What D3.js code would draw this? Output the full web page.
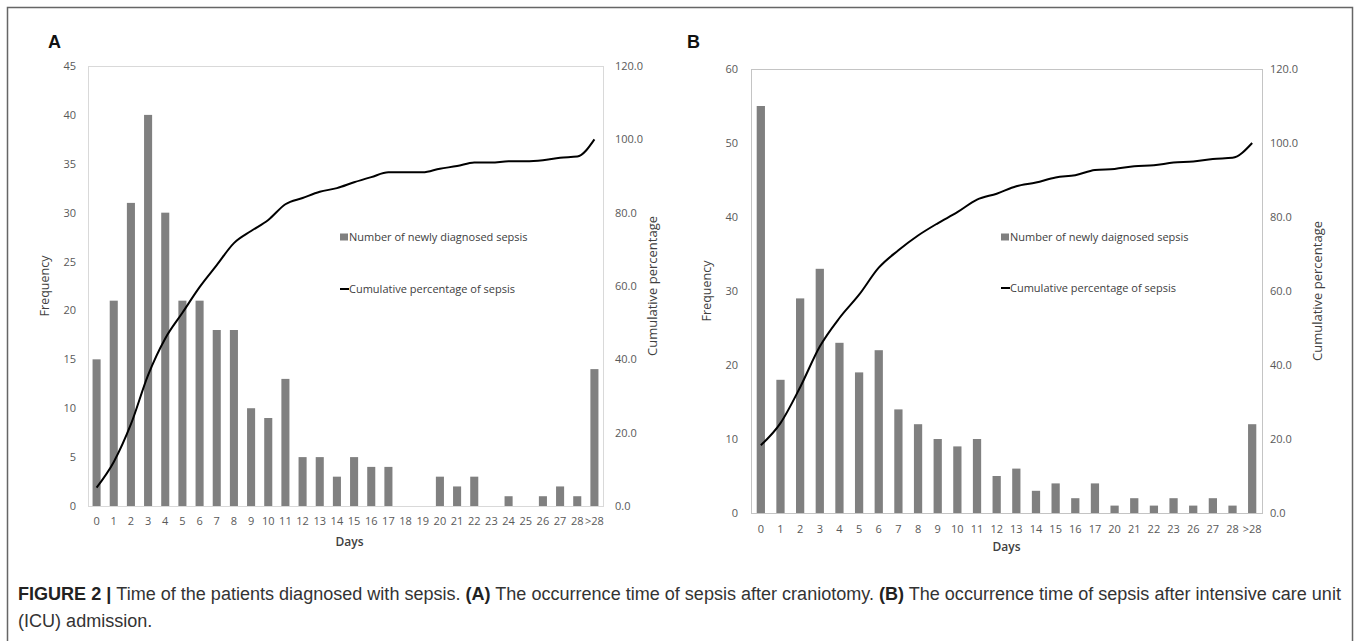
<!DOCTYPE html>
<html>
<head>
<meta charset="utf-8">
<script src="https://cdn.jsdelivr.net/npm/d3@7"></script>
<style>
  body { margin: 0; background: #fff; }
  .chart-text { font-family: "Open Sans", "Noto Sans", sans-serif; }
  .caption-text { font-family: "Liberation Sans", Arial, sans-serif; }
</style>
</head>
<body>
<div id="chart"></div>
<script>
// Panel A: after craniotomy
const daysA = ['0','1','2','3','4','5','6','7','8','9','10','11','12','13','14','15','16','17','18','19','20','21','22','23','24','25','26','27','28','>28'];
const countsA = [15, 21, 31, 40, 30, 21, 21, 18, 18, 10, 9, 13, 5, 5, 3, 5, 4, 4, 0, 0, 3, 2, 3, 0, 1, 0, 1, 2, 1, 14];
const cumPctA = [5.0, 12.0, 22.3, 35.7, 45.7, 52.7, 59.7, 65.7, 71.7, 75.0, 78.0, 82.3, 84.0, 85.7, 86.7, 88.3, 89.7, 91.0, 91.0, 91.0, 92.0, 92.7, 93.7, 93.7, 94.0, 94.0, 94.3, 95.0, 95.3, 100.0];
const freqTicksA = [0, 5, 10, 15, 20, 25, 30, 35, 40, 45];

// Panel B: after ICU admission
const daysB = ['0','1','2','3','4','5','6','7','8','9','10','11','12','13','14','15','16','17','20','21','22','23','26','27','28','>28'];
const countsB = [55, 18, 29, 33, 23, 19, 22, 14, 12, 10, 9, 10, 5, 6, 3, 4, 2, 4, 1, 2, 1, 2, 1, 2, 1, 12];
const cumPctB = [18.3, 24.3, 34.0, 45.0, 52.7, 59.0, 66.3, 71.0, 75.0, 78.3, 81.3, 84.7, 86.3, 88.3, 89.3, 90.7, 91.3, 92.7, 93.0, 93.7, 94.0, 94.7, 95.0, 95.7, 96.0, 100.0];
const freqTicksB = [0, 10, 20, 30, 40, 50, 60];

const pctTicks = [0, 20, 40, 60, 80, 100, 120];

const W = 1360, H = 641;
const svg = d3.select('#chart').append('svg')
    .attr('width', W)
    .attr('height', H);

svg.append('rect').attr('width', W).attr('height', H).attr('fill', '#fff');
// outer frame of the figure
svg.append('rect')
    .attr('x', 7.5).attr('y', 7.5)
    .attr('width', 1345).attr('height', 700)
    .attr('fill', 'none')
    .attr('stroke', '#666')
    .attr('stroke-width', 1.5);

function drawPanel(p) {
  const x = d3.scaleBand().domain(p.days).range([p.left, p.right]).paddingInner(p.pad).paddingOuter(p.pad / 2);
  const yL = d3.scaleLinear().domain([0, d3.max(p.freqTicks)]).range([p.bottom, p.top]);
  const yR = d3.scaleLinear().domain([0, 120]).range([p.bottom, p.top]);
  const g = svg.append('g');

  // plot area border
  g.append('rect')
      .attr('x', p.left + 0.5).attr('y', p.top + 0.5)
      .attr('width', p.right - p.left).attr('height', p.bottom - p.top)
      .attr('fill', 'none')
      .attr('stroke', p.frameColor)
      .attr('stroke-width', 1);

  // bars
  g.selectAll('.bar')
      .data(p.counts)
      .enter().append('rect')
      .attr('x', (d, i) => x(p.days[i]))
      .attr('y', d => yL(d))
      .attr('width', x.bandwidth())
      .attr('height', d => p.bottom - yL(d))
      .attr('fill', '#808080');

  // cumulative line
  const line = d3.line()
      .x((d, i) => x(p.days[i]) + x.bandwidth() / 2)
      .y(d => yR(d))
      .curve(d3.curveMonotoneX);
  g.append('path')
      .attr('d', line(p.cum))
      .attr('fill', 'none')
      .attr('stroke', '#000')
      .attr('stroke-width', 2);

  // axes
  const axL = g.append('g')
      .attr('transform', 'translate(' + p.left + ',0)')
      .call(d3.axisLeft(yL).tickValues(p.freqTicks).tickSize(0).tickPadding(p.padL));
  const axR = g.append('g')
      .attr('transform', 'translate(' + p.right + ',0)')
      .call(d3.axisRight(yR).tickValues(pctTicks).tickSize(0).tickPadding(p.padR).tickFormat(d3.format('.1f')));
  const axB = g.append('g')
      .attr('transform', 'translate(0,' + p.bottom + ')')
      .call(d3.axisBottom(x).tickSize(0).tickPadding(p.padB));
  [axL, axR, axB].forEach(a => {
    a.select('.domain').remove();
    a.selectAll('text')
        .attr('class', 'chart-text')
        .style('font-size', '11px')
        .attr('fill', '#595959');
  });

  // axis titles
  g.append('text')
      .attr('class', 'chart-text')
      .attr('transform', 'translate(' + p.freqTitleX + ',' + ((p.top + p.bottom) / 2) + ') rotate(-90)')
      .attr('text-anchor', 'middle')
      .attr('dy', '0.35em')
      .style('font-size', '12.5px')
      .attr('fill', '#404040')
      .text('Frequency');
  g.append('text')
      .attr('class', 'chart-text')
      .attr('transform', 'translate(' + p.pctTitleX + ',' + ((p.top + p.bottom) / 2) + ') rotate(-90)')
      .attr('text-anchor', 'middle')
      .attr('dy', '0.35em')
      .style('font-size', '13px')
      .attr('fill', '#404040')
      .text('Cumulative percentage');
  g.append('text')
      .attr('class', 'chart-text')
      .attr('x', (p.left + p.right) / 2 + p.daysDx)
      .attr('y', p.daysY)
      .attr('text-anchor', 'middle')
      .style('font-size', '12px')
      .style('font-weight', 600)
      .attr('fill', '#404040')
      .text('Days');

  // panel letter
  g.append('text')
      .attr('class', 'caption-text')
      .attr('x', p.letterX).attr('y', 48)
      .style('font-size', '18px')
      .style('font-weight', 'bold')
      .attr('fill', '#111')
      .text(p.letter);

  // legend
  const lg = g.append('g').attr('transform', 'translate(' + p.legX + ',0)');
  lg.append('rect').attr('x', 0).attr('y', p.legY1 - 3.5).attr('width', 8).attr('height', 7).attr('fill', '#808080');
  lg.append('text').attr('class', 'chart-text').attr('x', 9).attr('y', p.legY1).attr('dy', '0.35em')
      .style('font-size', '11px').attr('fill', '#404040').text(p.legBar);
  lg.append('line').attr('x1', 0).attr('x2', 9).attr('y1', p.legY2).attr('y2', p.legY2)
      .attr('stroke', '#000').attr('stroke-width', 2);
  lg.append('text').attr('class', 'chart-text').attr('x', 9).attr('y', p.legY2).attr('dy', '0.35em')
      .style('font-size', '11px').attr('fill', '#404040').text('Cumulative percentage of sepsis');
}

drawPanel({
  days: daysA, counts: countsA, cum: cumPctA, freqTicks: freqTicksA,
  left: 88, right: 603, top: 66, bottom: 506, pad: 0.53,
  frameColor: '#d9d9d9', padL: 12, padR: 12, padB: 11,
  freqTitleX: 45, pctTitleX: 652, daysY: 546, daysDx: 4,
  letter: 'A', letterX: 48,
  legX: 340, legY1: 237, legY2: 289,
  legBar: 'Number of newly diagnosed sepsis'
});

drawPanel({
  days: daysB, counts: countsB, cum: cumPctB, freqTicks: freqTicksB,
  left: 751, right: 1262, top: 69, bottom: 513, pad: 0.58,
  frameColor: '#c4c4c4', padL: 13, padR: 8, padB: 12,
  freqTitleX: 707, pctTitleX: 1317, daysY: 551, daysDx: 0,
  letter: 'B', letterX: 687,
  legX: 1001, legY1: 237, legY2: 288,
  legBar: 'Number of newly daignosed sepsis'
});

// caption (Helvetica-like face, horizontally condensed to the reference width)
const line1 = svg.append('text')
    .attr('class', 'caption-text')
    .attr('transform', 'translate(18,600) scale(0.94,1)')
    .style('font-size', '19.2px')
    .attr('fill', '#333');
line1.append('tspan').style('font-weight', 'bold').attr('fill', '#222').text('FIGURE 2 | ');
line1.append('tspan').text('Time of the patients diagnosed with sepsis. ');
line1.append('tspan').style('font-weight', 'bold').attr('fill', '#222').text('(A)');
line1.append('tspan').text(' The occurrence time of sepsis after craniotomy. ');
line1.append('tspan').style('font-weight', 'bold').attr('fill', '#222').text('(B)');
line1.append('tspan').text(' The occurrence time of sepsis after intensive care unit');
svg.append('text')
    .attr('class', 'caption-text')
    .attr('transform', 'translate(18,627) scale(0.94,1)')
    .style('font-size', '19.2px')
    .attr('fill', '#333')
    .text('(ICU) admission.');
</script>
</body>
</html>
